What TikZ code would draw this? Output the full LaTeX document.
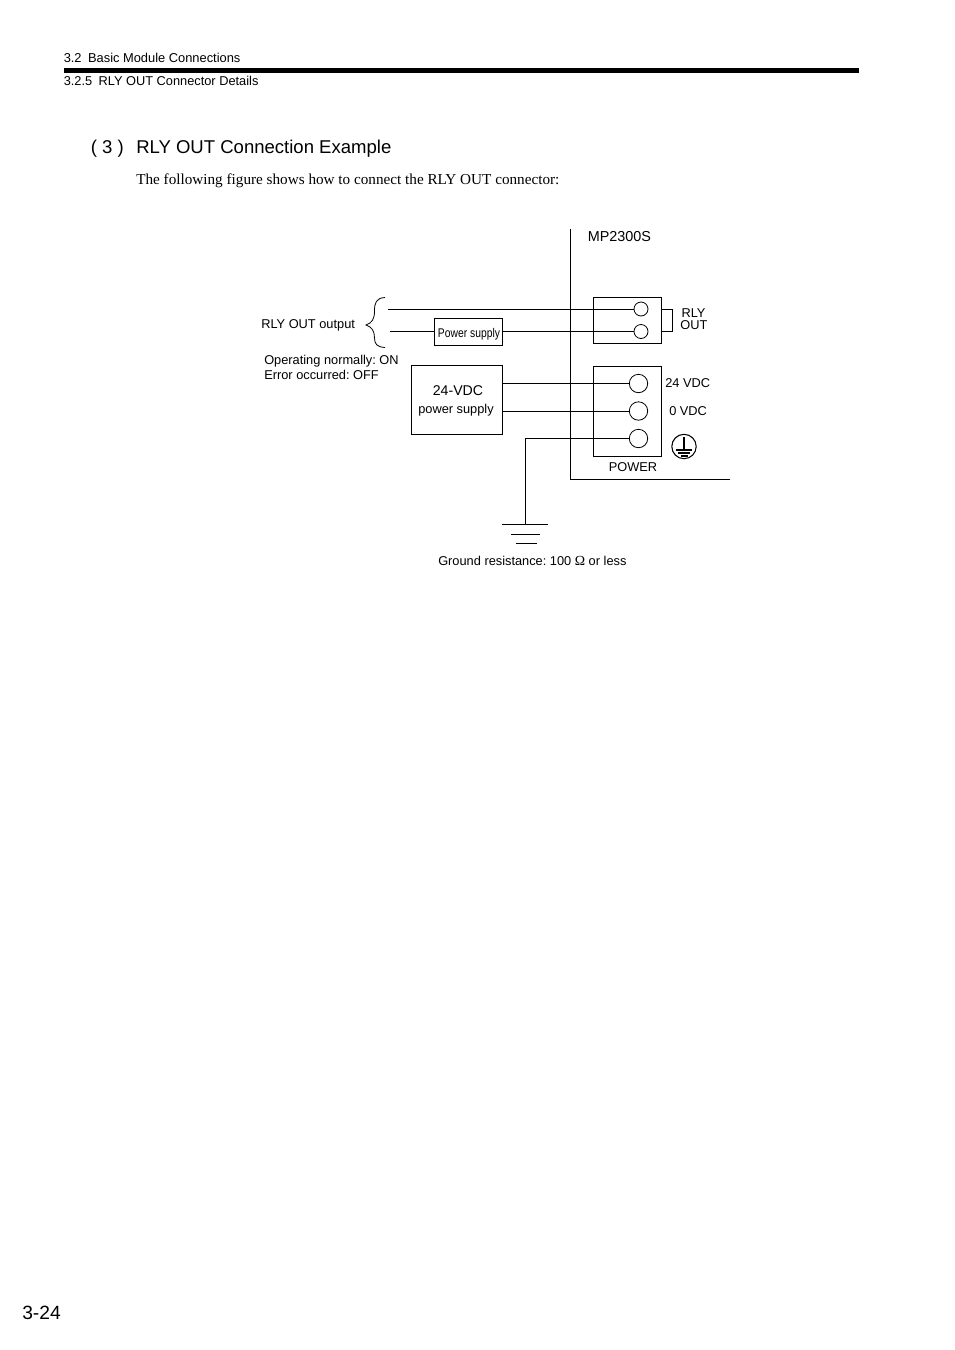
\documentclass[tikz,border=0pt]{standalone}
\usepackage{fontspec}
\setmainfont{Liberation Serif}
\setsansfont{Liberation Sans}
\frenchspacing
\tikzset{
  lbl/.style={anchor=base west,inner sep=0pt,font=\sffamily\fontsize{9.6}{11}\selectfont},
  clbl/.style={lbl,anchor=base},
  boxnode/.style={draw,anchor=north west,inner sep=0pt,outer sep=0pt,line width=.75pt},
  termsmall/.style={draw,circle,inner sep=0pt,minimum size=10.5pt,line width=.6pt},
  termbig/.style={draw,circle,inner sep=0pt,minimum size=13.8pt,line width=.6pt},
  wire/.style={line width=.75pt},
}
\begin{document}
\begin{tikzpicture}[x=.75pt,y=-.75pt]
\useasboundingbox (0,0) rectangle (954,1350);
% page head
\node[lbl,font=\sffamily\fontsize{9.65}{11}\selectfont] (sect) at (63.5,62) {3.2\hspace{.5em}Basic Module Connections};
\coordinate (barl) at (64,70.5);
\coordinate (barr) at (859,70.5);
\draw[line width=3.9pt] (barl)--(barr);
\node[lbl,font=\sffamily\fontsize{9.6}{11}\selectfont] (subsect) at (63.5,85) {3.2.5\hspace{.5em}RLY OUT Connector Details};
\node[lbl,font=\sffamily\fontsize{13.9}{16}\selectfont] (num) at (90.5,153) {( 3 )};
\node[lbl,font=\sffamily\fontsize{13.9}{16}\selectfont] (title) at (136,153) {RLY OUT Connection Example};
\node[lbl,font=\rmfamily\fontsize{11.4}{13}\selectfont] (intro) at (136,184) {The following figure shows how to connect the RLY OUT connector:};
\node[lbl,font=\sffamily\fontsize{14.4}{17}\selectfont] (page) at (22,1319) {3-24};
% module outline
\node[lbl,font=\sffamily\fontsize{10.8}{12}\selectfont] (mp) at (587.5,241) {MP2300S};
\coordinate (mptop) at (570.5,229);
\coordinate (mpcorner) at (570.5,479.5);
\coordinate (mpend) at (730,479.5);
\draw[wire] (mptop)--(mpcorner)--(mpend);
% connector boxes
\node[boxnode,minimum width=51.4pt,minimum height=34.9pt] (rlybox) at (593,297) {};
\node[boxnode,minimum width=51.4pt,minimum height=67.9pt] (powbox) at (593,366) {};
\node[termsmall] (rlya) at (641,309) {};
\node[termsmall] (rlyb) at (641,331.5) {};
\node[termbig] (pa) at (638.5,383.5) {};
\node[termbig] (pb) at (638.5,411) {};
\node[termbig] (pc) at (638.5,438.5) {};
% outside boxes
\node[boxnode,minimum width=51pt,minimum height=20.6pt] (psbox) at (434.5,318) {};
\node[inner sep=0pt] (pstxt) at (469,334) {\scalebox{.82}[1]{\sffamily\fontsize{9.45}{11}\selectfont Power supply}};
\node[boxnode,minimum width=68.3pt,minimum height=51.8pt] (vdcbox) at (411.5,365.5) {};
\node[clbl,font=\sffamily\fontsize{10.6}{12}\selectfont] (vdca) at (458,395) {24-VDC};
\node[clbl] (vdcb) at (456,413) {power supply};
% rly wires
\coordinate (rlyl) at (388,309);
\coordinate (psl) at (390,331.5);
\draw[wire] (rlyl)--(rlya);
\draw[wire] (psl)--(psl-|psbox.west);
\draw[wire] (psbox.east|-rlyb)--(rlyb);
\coordinate (jumpa) at (661.5,309);
\coordinate (jumpb) at (661.5,331.5);
\coordinate (jumpc) at (672.5,309);
\coordinate (jumpd) at (672.5,331.5);
\draw[wire] (jumpa)--(jumpc)--(jumpd)--(jumpb);
% power wires
\draw[wire] (vdcbox.east|-pa)--(pa);
\draw[wire] (vdcbox.east|-pb)--(pb);
\coordinate (gndbend) at (525.5,438.5);
\coordinate (gnda) at (525.5,524.5);
\draw[wire] (pc)--(gndbend)--(gnda);
\coordinate (gal) at (502,524.5);
\coordinate (gar) at (548,524.5);
\coordinate (gbl) at (511,534.5);
\coordinate (gbr) at (540,534.5);
\coordinate (gcl) at (515.5,543.5);
\coordinate (gcr) at (537,543.5);
\draw[wire] (gal)--(gar);
\draw[wire] (gbl)--(gbr);
\draw[wire] (gcl)--(gcr);
% brace
\coordinate (brt) at (385,297.5);
\coordinate (brtip) at (366,325);
\coordinate (brb) at (385,347.5);
\draw[line width=.6pt] (brt) .. controls (376,298) and (374.5,303) .. (374.5,311)
  .. controls (374.5,319) and (372,323) .. (brtip)
  .. controls (372,327) and (374.5,331) .. (374.5,338)
  .. controls (374.5,344) and (377,347) .. (brb);
% earth mark
\node[draw,circle,inner sep=0pt,minimum size=18.3pt,line width=.8pt] (earth) at (684,446.5) {};
\coordinate (etop) at (684,437);
\coordinate (emid) at (684,450);
\draw[line width=.9pt] (etop)--(emid);
\coordinate (eal) at (676,450);
\coordinate (ear) at (692,450);
\coordinate (ebl) at (678,453);
\coordinate (ebr) at (690,453);
\coordinate (ecl) at (680.5,456);
\coordinate (ecr) at (687.5,456);
\draw[line width=.9pt] (eal)--(ear);
\draw[line width=.9pt] (ebl)--(ebr);
\draw[line width=.9pt] (ecl)--(ecr);
% labels
\node[lbl] (rlyout) at (261,328) {RLY OUT output};
\node[lbl] (normal) at (264,364) {Operating normally: ON};
\node[lbl] (err) at (264,379) {Error occurred: OFF};
\node[clbl] (rlytxt) at (693.5,317) {RLY};
\node[clbl] (outtxt) at (694,329) {OUT};
\node[lbl] (tf) at (665,387) {24 VDC};
\node[lbl] (zero) at (669,415) {0 VDC};
\node[lbl] (powtxt) at (608.5,471) {POWER};
\node[lbl] (gres) at (438,565) {Ground resistance: 100 {\rmfamily\fontsize{10.4}{11}\selectfont Ω} or less};
\end{tikzpicture}
\end{document}
